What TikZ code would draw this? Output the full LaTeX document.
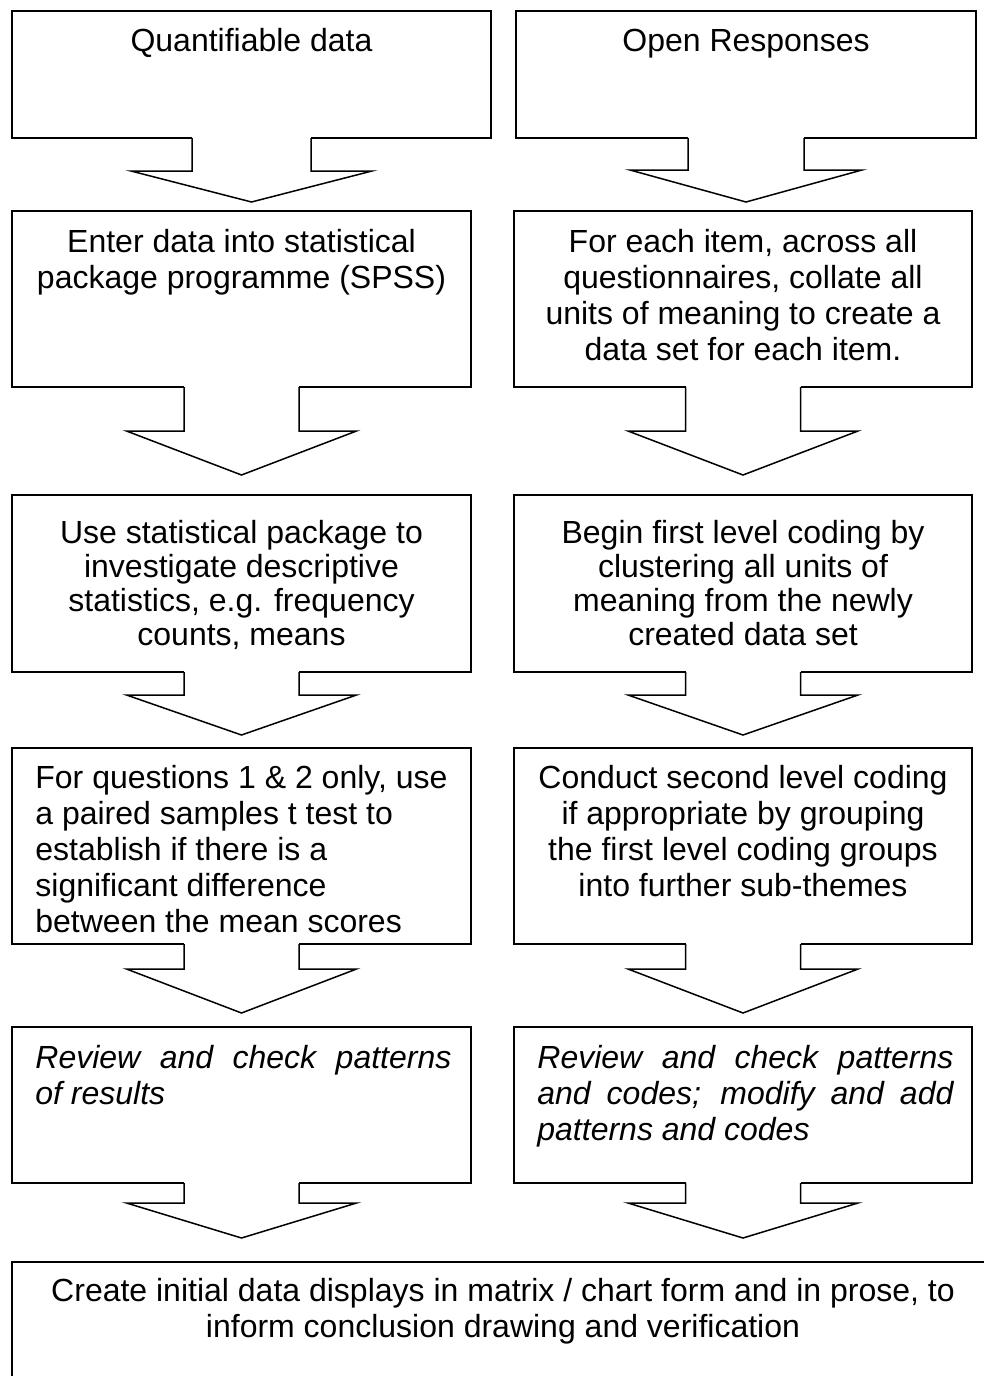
\documentclass[tikz,border=0pt]{standalone}
\usepackage{fontspec}
\setmainfont{Liberation Sans}
\usetikzlibrary{calc}

% box from (x1,y1) to (x2,y2), pixel-style coordinates with y pointing down
\newcommand\flowbox[6][]{%
  \node[box,#1,minimum width={(#5-#3)*0.5pt},minimum height={(#6-#4)*0.5pt}] (#2) at (#3,#4) {};}

% block arrow leaving the bottom of #1 and pointing at #2
% #3 half stem width, #4 half head width, #5 stem length, #6 gap above target
\newcommand\blockarrow[6]{%
  \coordinate (ba-l) at ($(#1.south)+(-#3,0)$);
  \coordinate (ba-r) at ($(#1.south)+(#3,0)$);
  \coordinate (ba-b) at ($(#1.south)+(0,#5)$);
  \coordinate (ba-t) at ($(#1.south |- #2.north)+(0,-#6)$);
  \fill[white] ($(ba-l)+(0,-2)$) rectangle ($(ba-r)+(0,2)$);
  \draw[blk] (ba-l) -- (ba-l |- ba-b) -- ($(ba-b)+(-#4,0)$) -- (ba-t)
     -- ($(ba-b)+(#4,0)$) -- (ba-r |- ba-b) -- (ba-r);}

\begin{document}
\begin{tikzpicture}[x=0.5pt,y=-0.5pt,
  box/.style={draw,line width=0.75pt,rectangle,inner sep=0pt,outer sep=0pt,anchor=north west},
  topbox/.style={line width=1pt},
  txt/.style={anchor=base,inner sep=0pt,font=\fontsize{16}{18}\selectfont},
  tight/.style={font=\fontsize{16}{17}\selectfont},
  blk/.style={draw,line width=0.75pt,line join=miter}]

\useasboundingbox (0,0) rectangle (984,1376);
\clip (0,0) rectangle (984,1376);
\fill[white] (0,0) rectangle (984,1376);

% boxes
\flowbox[topbox]{q1}{12}{11}{491}{138}
\flowbox[topbox]{o1}{516}{11}{976}{138}
\flowbox{q2}{12}{211}{471}{387}
\flowbox{o2}{514}{211}{972}{387}
\flowbox{q3}{12}{495}{471}{672}
\flowbox{o3}{514}{495}{972}{672}
\flowbox{q4}{12}{748}{471}{944}
\flowbox{o4}{514}{748}{972}{944}
\flowbox{q5}{12}{1027}{471}{1183}
\flowbox{o5}{514}{1027}{972}{1183}
\flowbox{fin}{12}{1262}{1010}{1410}

% block arrows
\blockarrow{q1}{q2}{59.5}{120.5}{33}{9}
\blockarrow{o1}{o2}{58}{116}{32}{9}
\blockarrow{q2}{q3}{57.5}{115}{44}{20}
\blockarrow{o2}{o3}{57.5}{115}{44}{20}
\blockarrow{q3}{q4}{57.5}{115}{23}{13}
\blockarrow{o3}{o4}{57.5}{115}{23}{13}
\blockarrow{q4}{q5}{57.5}{115}{25}{14}
\blockarrow{o4}{o5}{57.5}{115}{25}{14}
\blockarrow{q5}{fin}{57.5}{115}{20}{24}
\blockarrow{o5}{fin}{57.5}{115}{20}{24}

% texts
\node[txt] (tq1) at (251.5,51) {Quantifiable data};
\node[txt] (to1) at (746,51) {Open Responses};

\node[txt] (tq2) at (241.5,252) {\parbox[t]{220pt}{\centering
  Enter data into statistical\\package programme (SPSS)}};
\node[txt] (to2) at (743,252) {\parbox[t]{220pt}{\centering
  For each item, across all\\questionnaires, collate all\\units of meaning to create a\\data set for each item.}};

\node[txt,tight] (tq3) at (241.5,543) {\parbox[t]{220pt}{\centering
  Use statistical package to\\investigate descriptive\\statistics, e.g. frequency\\counts, means}};
\node[txt,tight] (to3) at (743,543) {\parbox[t]{220pt}{\centering
  Begin first level coding by\\clustering all units of\\meaning from the newly\\created data set}};

\node[txt,anchor=base west] (tq4) at (35,788) {\parbox[t]{215pt}{\raggedright
  For questions 1 \& 2 only, use\\a paired samples t test to\\establish if there is a\\significant difference\\between the mean scores}};
\node[txt] (to4) at (743,788) {\parbox[t]{220pt}{\centering
  Conduct second level coding\\if appropriate by grouping\\the first level coding groups\\into further sub-themes}};

\node[txt,anchor=base west] (tq5) at (35,1068) {\parbox[t]{208pt}{\itshape
  \makebox[\linewidth][s]{Review and check patterns}\\of results}};
\node[txt,anchor=base west] (to5) at (537,1068) {\parbox[t]{208pt}{\itshape
  \makebox[\linewidth][s]{Review and check patterns}\\
  \makebox[\linewidth][s]{and codes; modify and add}\\patterns and codes}};

\node[txt] (tfin) at (503,1301) {\parbox[t]{480pt}{\centering
  Create initial data displays in matrix / chart form and in prose, to\\inform conclusion drawing and verification}};

\end{tikzpicture}
\end{document}
